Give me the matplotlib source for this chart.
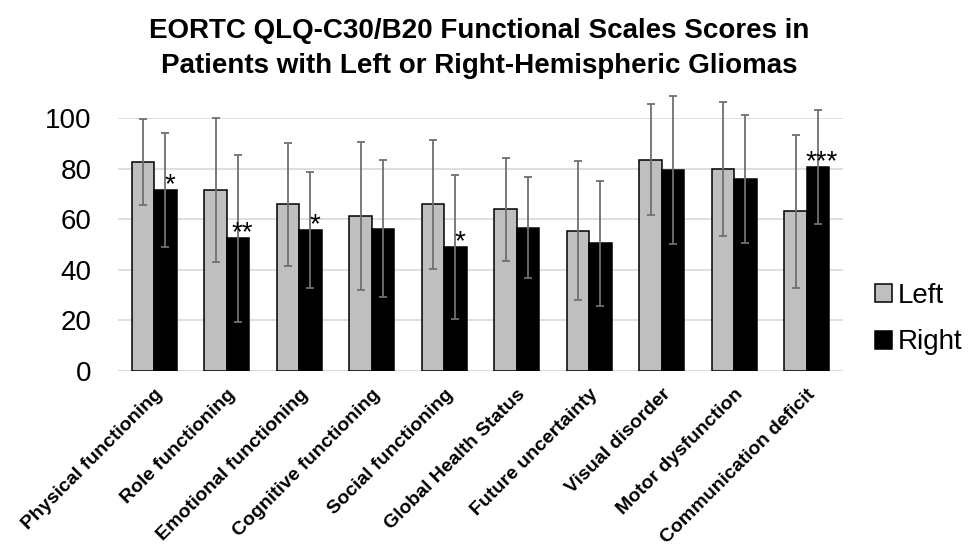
import matplotlib
matplotlib.use("Agg")
import matplotlib.pyplot as plt
import numpy as np

plt.rcParams['font.family'] = ['Liberation Sans', 'DejaVu Sans']

categories = ["Physical functioning", "Role functioning", "Emotional functioning",
              "Cognitive functioning", "Social functioning", "Global Health Status",
              "Future uncertainty", "Visual disorder", "Motor dysfunction",
              "Communication deficit"]
left_vals = [82.8, 71.6, 66.0, 61.3, 66.0, 63.9, 55.5, 83.5, 79.9, 63.1]
left_err = [17.0, 28.6, 24.4, 29.3, 25.6, 20.4, 27.4, 22.0, 26.6, 30.2]
right_vals = [71.6, 52.4, 55.6, 56.3, 48.9, 56.7, 50.5, 79.5, 76.1, 80.8]
right_err = [22.6, 33.0, 23.0, 27.1, 28.5, 20.0, 24.7, 29.3, 25.4, 22.6]
sig_marks = ["*", "**", "*", "", "*", "", "", "", "", "***"]
yticks = [0, 20, 40, 60, 80, 100]

fig = plt.figure(figsize=(9.71, 5.48), dpi=100)
ax = fig.add_axes([118/971, 1-370.7/548, (843-118)/971, (370.7-118.3)/548])

x = np.arange(len(categories))
w = 0.31
ekw = dict(ecolor='#707070', elinewidth=1.3, capsize=3, capthick=1.3)
b1 = ax.bar(x - w/2, left_vals, w, color='#bfbfbf', edgecolor='black', linewidth=1.1,
            label='Left', zorder=3)
b2 = ax.bar(x + w/2, right_vals, w, color='black', edgecolor='black', linewidth=1.1,
            label='Right', zorder=3)
e1 = ax.errorbar(x - w/2, left_vals, yerr=left_err, fmt='none', zorder=4, **ekw)
e2 = ax.errorbar(x + w/2, right_vals, yerr=right_err, fmt='none', zorder=4, **ekw)
for e in (e1, e2):
    for art in e.lines[1] + e.lines[2]:
        art.set_clip_on(False)

for xi, v, m in zip(x, right_vals, sig_marks):
    if m:
        ax.annotate(m, (xi + w/2, v), xytext=(4, -2), textcoords='offset pixels',
                    ha='center', va='baseline', fontsize=20, zorder=5)

ax.set_xlim(-0.5, len(categories) - 0.5)
ax.set_ylim(0, 100)
ax.set_yticks(yticks)
ax.set_yticklabels([str(t) for t in yticks], fontsize=20)
ax.yaxis.grid(True, color='#d9d9d9', linewidth=1.2, zorder=0)
ax.set_axisbelow(True)
for s in ax.spines.values():
    s.set_visible(False)
ax.tick_params(axis='y', length=0, pad=19)
ax.tick_params(axis='x', length=0, pad=11)
ax.set_xticks(x)
ax.set_xticklabels(categories, rotation=45, ha='right', va='top',
                   rotation_mode='anchor', fontsize=14, fontweight='bold')
ax.axhline(0, color='#d9d9d9', linewidth=1.2, zorder=1)

fig.text(479/971, 1-73/548, "EORTC QLQ-C30/B20 Functional Scales Scores in\nPatients with Left or Right-Hemispheric Gliomas",
         ha='center', va='baseline', fontsize=20, fontweight='bold', linespacing=1.45)

leg = fig.legend(handles=[b1, b2], labels=['Left', 'Right'], loc='center left',
                 bbox_to_anchor=(864/971, 1-319/548), frameon=False, fontsize=20,
                 handlelength=0.62, handleheight=0.62, handletextpad=0.2,
                 labelspacing=0.75, borderaxespad=0)

fig.savefig("out.png", dpi=100)
